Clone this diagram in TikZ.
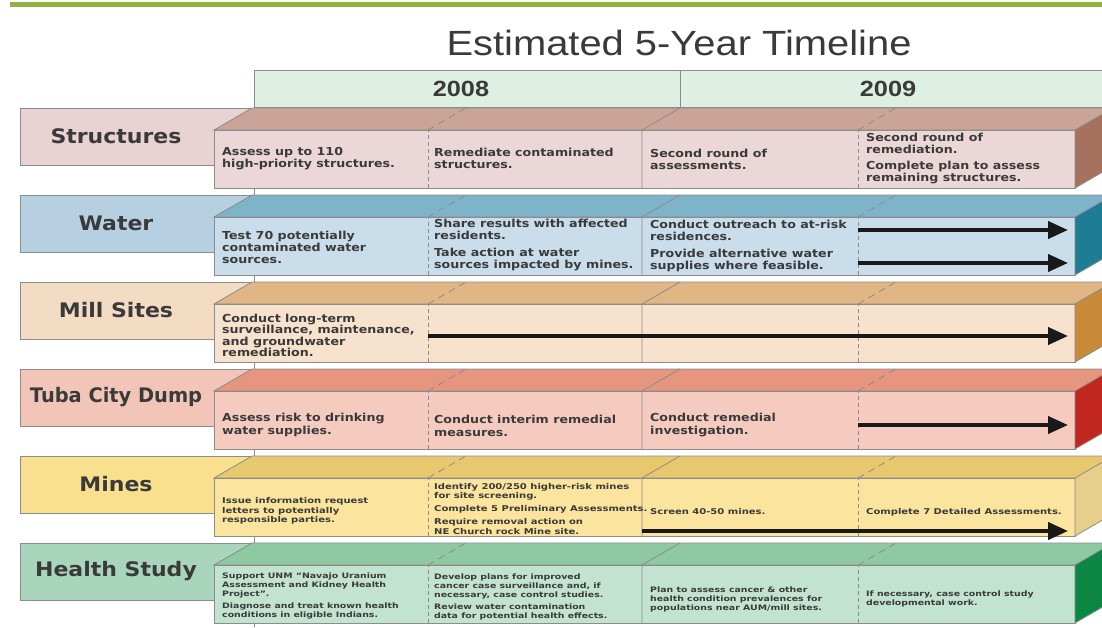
\documentclass[tikz,border=0pt]{standalone}
\usepackage{fontspec}
\setmainfont{Liberation Sans}
\newfontfamily\labfont[FakeStretch=1.1]{DejaVu Sans}
\newfontfamily\labfontn[FakeStretch=0.97]{DejaVu Sans}
\newfontfamily\titlefont[FakeStretch=1.14]{Liberation Sans}
\newfontfamily\yearfont[FakeStretch=1.15]{Liberation Sans}
\newfontfamily\cellfont[FakeStretch=1.15]{DejaVu Sans}
\newfontfamily\smallfont[FakeStretch=1.25]{DejaVu Sans}
\usetikzlibrary{arrows.meta}
\definecolor{edgec}{HTML}{8C8C8C}
\definecolor{txt}{HTML}{3A3A3A}
\definecolor{greenbar}{HTML}{8CB43F}
\definecolor{yearfill}{HTML}{DDF0E3}
% Structures
\definecolor{sL}{HTML}{E9D2D2}\definecolor{sT}{HTML}{C9A497}\definecolor{sF}{HTML}{EBD7D7}\definecolor{sS}{HTML}{A7715F}
% Water
\definecolor{wL}{HTML}{B6D0E2}\definecolor{wT}{HTML}{7FB3C9}\definecolor{wF}{HTML}{C9DDEA}\definecolor{wS}{HTML}{1F7C95}
% Mill
\definecolor{mL}{HTML}{F3DCC3}\definecolor{mT}{HTML}{E0B684}\definecolor{mF}{HTML}{F6E2CD}\definecolor{mS}{HTML}{C98A3A}
% Tuba
\definecolor{tL}{HTML}{F2C5B8}\definecolor{tT}{HTML}{E6957F}\definecolor{tF}{HTML}{F5CBC0}\definecolor{tS}{HTML}{C2271F}
% Mines
\definecolor{nL}{HTML}{F8E08F}\definecolor{nT}{HTML}{E8C86E}\definecolor{nF}{HTML}{FAE49E}\definecolor{nS}{HTML}{E6CF8A}
% Health
\definecolor{hL}{HTML}{A8D5BC}\definecolor{hT}{HTML}{8FC9A2}\definecolor{hF}{HTML}{C2E3D0}\definecolor{hS}{HTML}{0B8743}
\tikzset{
  edge/.style={draw=edgec, line width=0.8pt},
  dashedge/.style={draw=edgec, line width=0.8pt, dash pattern=on 4pt off 3pt},
  lab/.style={inner sep=0pt, text=txt, font=\labfont\bfseries\fontsize{20}{22}\selectfont},
  cell/.style={anchor=west, align=left, inner sep=0pt, text=txt, font=\cellfont\bfseries\fontsize{11}{12}\selectfont},
  millcell/.style={anchor=west, align=left, inner sep=0pt, text=txt, font=\cellfont\bfseries\fontsize{11}{11.5}\selectfont},
  tubacell/.style={anchor=west, align=left, inner sep=0pt, text=txt, font=\cellfont\bfseries\fontsize{11}{12.5}\selectfont},
  minecell/.style={anchor=west, align=left, inner sep=0pt, text=txt, font=\smallfont\bfseries\fontsize{8}{9.5}\selectfont},
  healthcell/.style={anchor=west, align=left, inner sep=0pt, text=txt, font=\smallfont\bfseries\fontsize{7.5}{9}\selectfont},
  tarrow/.style={draw=black!90, line width=4pt, -{Triangle[length=20pt,width=17pt]}},
}
\newcommand\tlrow[7]{%
  \filldraw[edge, fill=#3] (20,#2) rectangle (253,#2+57);
  \node[lab] (lab#1) at (116,#2+28.5) {#7};
  \filldraw[edge, fill=#4] (214,#2+22) -- (252,#2) -- (1114,#2) -- (1076,#2+22) -- cycle;
  \filldraw[edge, fill=#5] (214,#2+22) rectangle (1075,#2+80);
  \filldraw[edge, fill=#6] (1075,#2+22) -- (1113,#2) -- (1113,#2+58) -- (1075,#2+80) -- cycle;
  \draw[dashedge] (428,#2+80) -- (428,#2+22);
  \draw[edge, dash pattern=on 7pt off 5pt] (428,#2+22) -- (466,#2);
  \draw[edge] (642,#2+80) -- (642,#2+22) -- (680,#2);
  \draw[dashedge] (858,#2+80) -- (858,#2+22);
  \draw[edge, dash pattern=on 7pt off 5pt] (858,#2+22) -- (896,#2);
}
\begin{document}
\begin{tikzpicture}[x=1pt,y=-1pt]
\useasboundingbox (0,0) rectangle (1102,627);
\clip (0,0) rectangle (1102,627);
\fill[white] (0,0) rectangle (1102,627);
\fill[greenbar] (10,2) rectangle (1102,7);
\node[anchor=base, text=txt, font=\titlefont\fontsize{35}{40}\selectfont] (title) at (679,55) {Estimated 5-Year Timeline};
% year header
\draw[edge] (254,70) -- (254,627);
\filldraw[edge, fill=yearfill] (254,70) rectangle (1110,107);
\draw[edge] (680,70) -- (680,107);
\node[text=txt, font=\yearfont\bfseries\fontsize{22}{24}\selectfont] (y2008) at (461,88.5) {2008};
\node[text=txt, font=\yearfont\bfseries\fontsize{22}{24}\selectfont] (y2009) at (888,88.5) {2009};
% rows
\tlrow{s}{108}{sL}{sT}{sF}{sS}{Structures}
\tlrow{w}{195}{wL}{wT}{wF}{wS}{Water}
\tlrow{m}{282}{mL}{mT}{mF}{mS}{Mill Sites}
\tlrow{t}{369}{tL}{tT}{tF}{tS}{\labfontn Tuba City Dump}
\tlrow{n}{456}{nL}{nT}{nF}{nS}{Mines}
\tlrow{h}{543}{hL}{hT}{hF}{hS}{Health Study}
% Structures cells
\node[cell] (s1) at (222,158.5) {Assess up to 110\\high-priority structures.};
\node[cell] (s2) at (434,158.5) {Remediate contaminated\\structures.};
\node[cell] (s3) at (650,159) {Second round of\\assessments.};
\node[cell] (s4) at (866,158.5) {Second round of\\remediation.\\[4pt]Complete plan to assess\\remaining structures.};
% Water cells
\node[cell] (w1) at (222,247) {Test 70 potentially\\contaminated water\\sources.};
\node[cell] (w2) at (434,245.5) {Share results with affected\\residents.\\[5pt]Take action at water\\sources impacted by mines.};
\node[cell] (w3) at (650,246) {Conduct outreach to at-risk\\residences.\\[5pt]Provide alternative water\\supplies where feasible.};
\coordinate (wa1s) at (858,230);
\coordinate (wa1e) at (1068,230);
\coordinate (wa2s) at (858,263);
\coordinate (wa2e) at (1068,263);
\draw[tarrow] (wa1s) -- (wa1e);
\draw[tarrow] (wa2s) -- (wa2e);
% Mill cells
\node[millcell] (m1) at (222,335.5) {Conduct long-term\\surveillance, maintenance,\\and groundwater\\remediation.};
\coordinate (mas) at (428,336);
\coordinate (mae) at (1068,336);
\draw[tarrow] (mas) -- (mae);
% Tuba cells
\node[tubacell] (t1) at (222,425) {Assess risk to drinking\\water supplies.};
\node[tubacell] (t2) at (434,426) {Conduct interim remedial\\measures.};
\node[tubacell] (t3) at (650,425) {Conduct remedial\\investigation.};
\coordinate (tas) at (858,425);
\coordinate (tae) at (1068,425);
\draw[tarrow] (tas) -- (tae);
% Mines cells
\node[minecell] (n1) at (222,511) {Issue information request\\letters to potentially\\responsible parties.};
\node[minecell] (n2) at (434,509) {Identify 200/250 higher-risk mines\\for site screening.\\[3.5pt]Complete 5 Preliminary Assessments.\\[3.5pt]Require removal action on\\NE Church rock Mine site.};
\node[minecell] (n3) at (650,512) {Screen 40-50 mines.};
\node[minecell] (n4) at (866,512) {Complete 7 Detailed Assessments.};
\coordinate (nas) at (642,531);
\coordinate (nae) at (1068,531);
\draw[tarrow] (nas) -- (nae);
% Health cells
\node[healthcell] (h1) at (222,596) {Support UNM “Navajo Uranium\\Assessment and Kidney Health\\Project”.\\[3pt]Diagnose and treat known health\\conditions in eligible Indians.};
\node[healthcell] (h2) at (434,597) {Develop plans for improved\\cancer case surveillance and, if\\necessary, case control studies.\\[3pt]Review water contamination\\data for potential health effects.};
\node[healthcell] (h3) at (650,599) {Plan to assess cancer \& other\\health condition prevalences for\\populations near AUM/mill sites.};
\node[healthcell] (h4) at (866,599) {If necessary, case control study\\developmental work.};
\end{tikzpicture}
\end{document}
